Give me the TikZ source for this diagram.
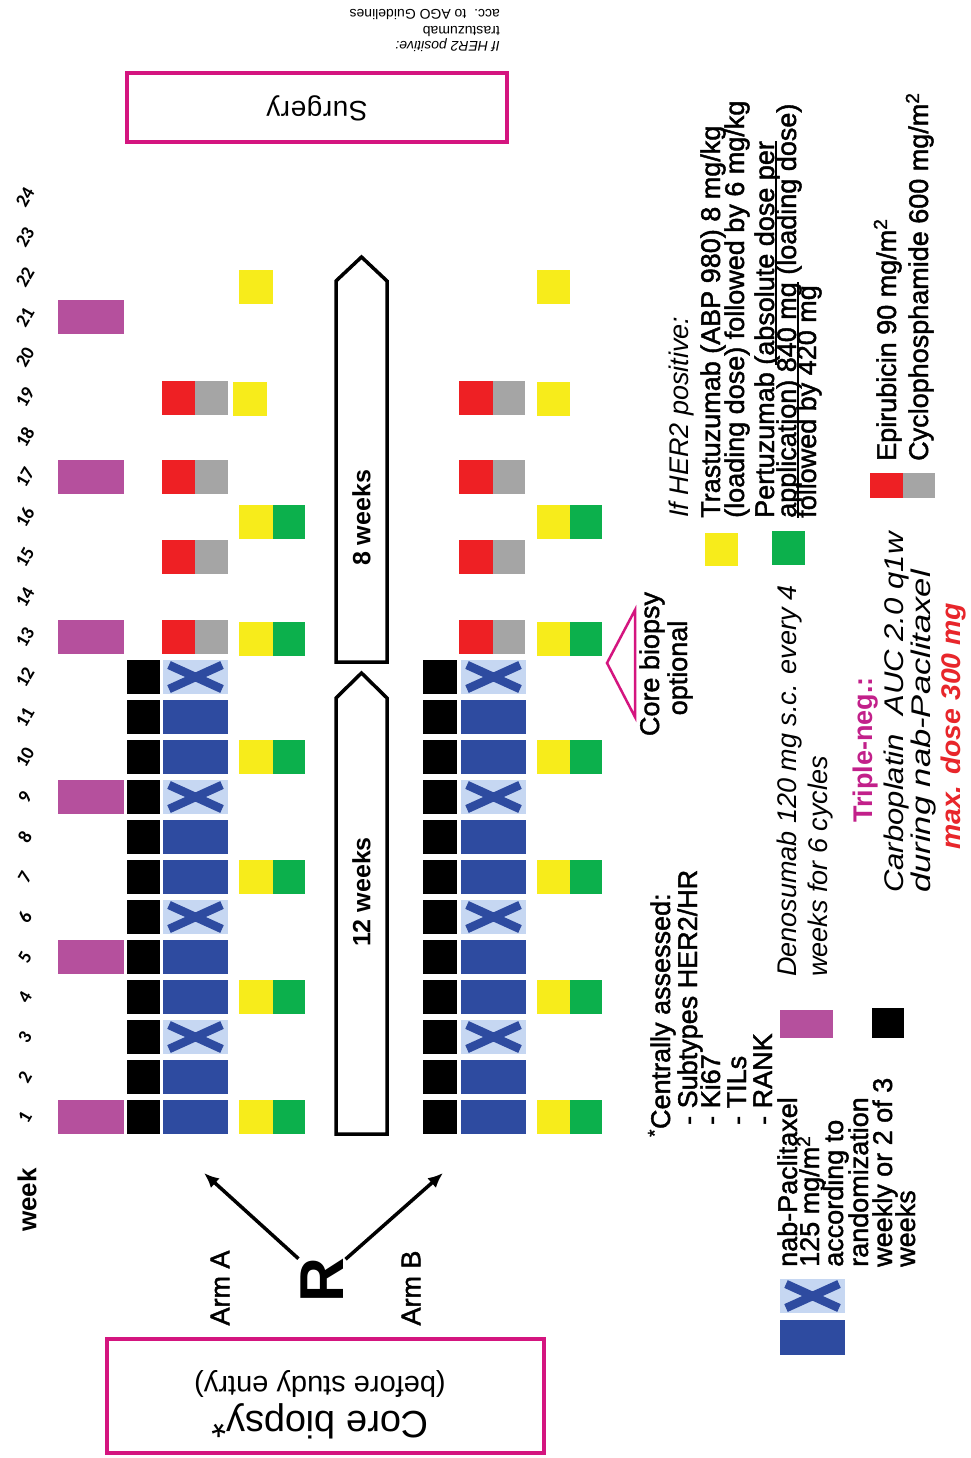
\documentclass[tikz,border=0pt]{standalone}
\usepackage{fontspec}
\setmainfont{Liberation Sans}
\newfontfamily\wkfont{Carlito}
\newfontfamily\semib[FakeBold=1.6]{Liberation Sans}
\usetikzlibrary{arrows.meta}
\newcommand\FS[1]{\fontsize{#1}{#1}\selectfont}
\newcommand\thul[1]{\setbox0=\hbox{#1}\rlap{\rule[-3pt]{\wd0}{1.6pt}}\box0\relax}
\definecolor{denos}{HTML}{B5509D}
\definecolor{nabblue}{HTML}{2E4BA0}
\definecolor{lblue}{HTML}{C6D7F2}
\definecolor{epired}{HTML}{EE2024}
\definecolor{cycgray}{HTML}{A5A5A5}
\definecolor{trasyel}{HTML}{F7EC1B}
\definecolor{pergreen}{HTML}{0CB04C}
\definecolor{pinkb}{HTML}{D4157F}
\definecolor{tnmag}{HTML}{C2208A}
\definecolor{maxred}{HTML}{E8262B}
\newcommand\bx[5]{\fill[#1] (#2,#4-17) rectangle (#3,#4+17);}
\newcommand\xbox[3]{%
  \fill[lblue] (#1,#3-17) rectangle (#2,#3+17);
  \draw[nabblue,line width=8.5pt] (#1+6,#3-12) -- (#2-6,#3+12) (#1+6,#3+12) -- (#2-6,#3-12);}
\begin{document}
\begin{tikzpicture}[x=1pt,y=-1pt,
  leg/.style={rotate=90,anchor=base west,inner sep=0pt,font=\semib\FS{27}},
  legit/.style={rotate=90,anchor=base west,inner sep=0pt,font=\itshape\FS{27}},
  rtext/.style={rotate=90,inner sep=0pt,font=\semib\FS{27}},
  wk/.style={rotate=60,inner sep=0pt,font=\wkfont\bfseries\FS{19}},
  weekarrow/.style={draw=black,line width=3.5pt,line join=miter},
  pinkbox/.style={draw=pinkb,line width=4pt,inner sep=0pt},
  rarrow/.style={line width=3.5pt,-{Latex[length=15pt,width=13pt]}}]
\useasboundingbox (0,0) rectangle (971,1458);
\fill[white] (0,0) rectangle (971,1458);

% week numbers
\foreach \n in {1,...,24}{
  \node[wk] (wn\n) at (25,{1117-40*(\n-1)}) {\n};
}
\node[rtext,font=\bfseries\FS{26}] (weeklbl) at (27,1200) {week};

% black + blue (weeks 1-12)
\foreach \n in {1,...,12}{
  \pgfmathsetmacro\yc{1117-40*(\n-1)}
  \bx{black}{127}{160}{\yc}{}
  \bx{black}{423}{457}{\yc}{}
}
\foreach \n in {1,2,4,5,7,8,10,11}{
  \pgfmathsetmacro\yc{1117-40*(\n-1)}
  \bx{nabblue}{163}{228}{\yc}{}
  \bx{nabblue}{461}{526}{\yc}{}
}
\foreach \n in {3,6,9,12}{
  \pgfmathsetmacro\yc{1117-40*(\n-1)}
  \xbox{163}{228}{\yc}
  \xbox{461}{526}{\yc}
}
% denosumab (arm A)
\foreach \yc in {1117,957,797,637,477,317}{
  \bx{denos}{58}{124}{\yc}{}
}
% epirubicin / cyclophosphamide
\foreach \yc in {637,557,477,398}{
  \bx{epired}{162}{195}{\yc}{}
  \bx{cycgray}{195}{228}{\yc}{}
  \bx{epired}{459}{493}{\yc}{}
  \bx{cycgray}{493}{525}{\yc}{}
}
% trastuzumab / pertuzumab
\foreach \yc in {1117,997,877,757,639,522}{
  \bx{trasyel}{239}{273}{\yc}{}
  \bx{pergreen}{273}{305}{\yc}{}
  \bx{trasyel}{537}{570}{\yc}{}
  \bx{pergreen}{570}{602}{\yc}{}
}
\bx{trasyel}{233}{267}{399}{}
\bx{trasyel}{239}{273}{287}{}
\bx{trasyel}{537}{570}{399}{}
\bx{trasyel}{537}{570}{287}{}

% week arrows
\draw[weekarrow] (336,1134) -- (387,1134) -- (387,698) -- (361.5,673) -- (336,698) -- cycle;
\node[rtext,font=\bfseries\FS{25}] (twelve) at (361.5,892) {12 weeks};
\draw[weekarrow] (336,662) -- (387,662) -- (387,281) -- (361.5,257) -- (336,281) -- cycle;
\node[rtext,font=\bfseries\FS{25}] (eight) at (361.5,518) {8 weeks};

% randomisation
\node[rotate=90,inner sep=2pt,font=\bfseries\FS{62}] (R) at (322,1280) {R};
\coordinate (tipA) at (204,1173);
\coordinate (tipB) at (443,1173);
\draw[rarrow] (R) -- (tipA);
\draw[rarrow] (R) -- (tipB);
\node[rtext] (armA) at (220,1288) {Arm A};
\node[rtext] (armB) at (411,1288) {Arm B};

% core biopsy box (upside down)
\node[pinkbox,minimum width=437pt,minimum height=114pt] (cbox) at (325.5,1396) {};
\node[rotate=180,inner sep=0pt,font=\FS{38}] (cbt1) at (320,1421) {Core biopsy*};
\node[rotate=180,inner sep=0pt,font=\FS{29}] (cbt2) at (320,1384) {(before study entry)};

% surgery box
\node[pinkbox,minimum width=380pt,minimum height=69pt] (sbox) at (317,107.5) {};
\node[rotate=180,inner sep=0pt,font=\FS{28}\addfontfeature{LetterSpace=2}] (stext) at (317,108) {Surgery};
\node[rotate=180,anchor=base west,inner sep=0pt,font=\itshape\FS{14}] (s1) at (500,42) {If HER2 positive:};
\node[rotate=180,anchor=base west,inner sep=0pt,font=\FS{14}] (s2) at (500,27) {trastuzumab};
\node[rotate=180,anchor=base west,inner sep=0pt,font=\FS{14}] (s3) at (500,10) {acc.\ \ to AGO Guidelines};

% optional core biopsy
\draw[pinkb,line width=2.5pt,line join=miter] (607,663) -- (635,610) -- (635,717) -- cycle;
\node[rotate=90,anchor=base,inner sep=0pt,font=\semib\FS{27}] (cbo1) at (659,664) {Core biopsy};
\node[rotate=90,anchor=base,inner sep=0pt,font=\semib\FS{27}] (cbo2) at (687,668) {optional};

% HER2 legend
\node[legit] (h0) at (688,518) {If HER2 positive:};
\fill[trasyel] (705,533) rectangle (738,566);
\node[leg] (t1) at (720,518) {Trastuzumab (ABP 980) 8 mg/kg};
\node[leg] (t2) at (744,518) {(loading dose) followed by 6 mg/kg};
\fill[pergreen] (772,531) rectangle (805,565);
\node[leg] (p1) at (774,518) {Pertuzumab \thul{(absolute dose per}};
\node[leg] (p2) at (796,518) {\thul{application) 840 mg} (loading dose)};
\node[leg] (p3) at (816,518) {followed by 420 mg};

% EC legend
\fill[epired] (870,473) rectangle (903,498);
\fill[cycgray] (903,473) rectangle (935,498);
\node[leg] (e1) at (896,461) {Epirubicin 90 mg/m\textsuperscript{2}};
\node[leg] (e2) at (928,461) {Cyclophosphamide 600 mg/m\textsuperscript{2}};

% central assessment
\node[leg] (c1) at (670,1137) {\textsuperscript{*}Centrally assessed:};
\node[leg] (c2) at (697,1125) {- Subtypes HER2/HR};
\node[leg] (c3) at (720,1125) {- Ki67};
\node[leg] (c4) at (746,1125) {- TILs};
\node[leg] (c5) at (772,1125) {- RANK};

% nab-paclitaxel legend
\xbox{780}{845}{1296}
\fill[nabblue] (780,1320) rectangle (845,1355);
\node[leg] (n1) at (797,1267) {nab-Paclitaxel};
\node[leg] (n2) at (819,1267) {125 mg/m\textsuperscript{2}};
\node[leg] (n3) at (843,1267) {according to};
\node[leg] (n4) at (868,1267) {randomization};
\node[leg] (n5) at (892,1267) {weekly or 2 of 3};
\node[leg] (n6) at (915,1267) {weeks};

% denosumab legend
\fill[denos] (780,1010) rectangle (833,1038);
\node[legit] (d1) at (796,977) {Denosumab 120 mg s.c. every 4};
\node[legit] (d2) at (827,977) {weeks for 6 cycles};

% carboplatin legend
\fill[black] (872,1008) rectangle (904,1038);
\node[leg,font=\bfseries\FS{27},text=tnmag] (tn) at (872,823) {Triple-neg.:};
\node[legit,font=\itshape\FS{27}\addfontfeature{FakeStretch=1.15}] (cp1) at (903,893) {Carboplatin\hspace{10pt} AUC 2.0 q1w};
\node[legit,font=\itshape\FS{27}\addfontfeature{FakeStretch=1.28}] (cp2) at (930,893) {during nab-Paclitaxel};
\node[legit,font=\bfseries\itshape\FS{27}\addfontfeature{FakeStretch=1.05},text=maxred] (cp3) at (960,850) {max. dose 300 mg};
\end{tikzpicture}
\end{document}
